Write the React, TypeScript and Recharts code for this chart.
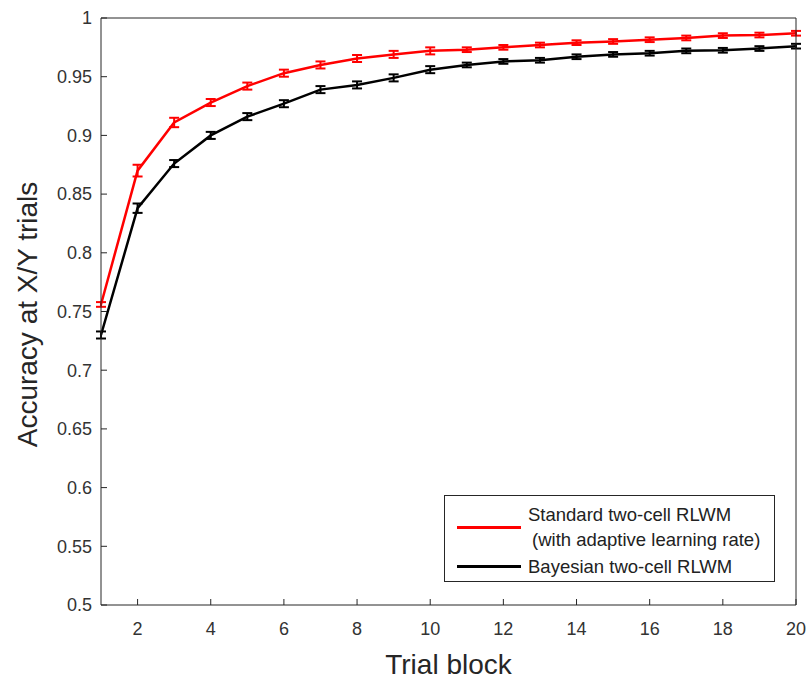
import React from 'react';
import {
  LineChart, Line, XAxis, YAxis, ErrorBar, Label,
} from 'recharts';

// accuracy per trial block for the two models
const trialBlocks = [1, 2, 3, 4, 5, 6, 7, 8, 9, 10, 11, 12, 13, 14, 15, 16, 17, 18, 19, 20];
const standardAcc = [0.756, 0.870, 0.911, 0.928, 0.942, 0.953, 0.960, 0.9655, 0.969, 0.972,
  0.973, 0.975, 0.977, 0.979, 0.980, 0.9815, 0.983, 0.985, 0.9855, 0.987];
const standardErr = [0.002, 0.005, 0.004, 0.003, 0.003, 0.003, 0.003, 0.003, 0.003, 0.003,
  0.002, 0.002, 0.002, 0.002, 0.002, 0.002, 0.002, 0.002, 0.002, 0.002];
const bayesianAcc = [0.730, 0.838, 0.876, 0.900, 0.916, 0.927, 0.939, 0.943, 0.949, 0.956,
  0.960, 0.963, 0.964, 0.967, 0.969, 0.970, 0.972, 0.9725, 0.974, 0.976];
const bayesianErr = [0.003, 0.004, 0.003, 0.003, 0.003, 0.003, 0.003, 0.003, 0.003, 0.003,
  0.002, 0.002, 0.002, 0.002, 0.002, 0.002, 0.002, 0.002, 0.002, 0.002];

const xTicks = [2, 4, 6, 8, 10, 12, 14, 16, 18, 20];
const yTicks = [0.5, 0.55, 0.6, 0.65, 0.7, 0.75, 0.8, 0.85, 0.9, 0.95, 1];

const series = [
  { key: 'standard', err: 'standardErr', color: '#ff0000',
    label: ['Standard two-cell RLWM', '(with adaptive learning rate)'] },
  { key: 'bayesian', err: 'bayesianErr', color: '#000000',
    label: ['Bayesian two-cell RLWM'] },
];

const data = trialBlocks.map((t, i) => ({
  block: t,
  standard: standardAcc[i],
  standardErr: standardErr[i],
  bayesian: bayesianAcc[i],
  bayesianErr: bayesianErr[i],
}));

const FONT = '"Liberation Sans", Arial, Helvetica, sans-serif';
const AXIS = '#262626';
const tickStyle = { fill: '#333', fontSize: 18, fontFamily: FONT };

const fmt = (v: number) => String(Number(v.toFixed(2)));

function LegendBox() {
  return (
    <div style={{
      position: 'absolute', left: 444, top: 495,
      border: `1px solid ${AXIS}`, background: '#fff', width: 331, height: 87,
      fontFamily: FONT, fontSize: 18.5, color: '#222', boxSizing: 'border-box',
      paddingTop: 6,
    }}>
      {series.map((s) => (
        <div key={s.key} style={{ display: 'flex', alignItems: 'center', marginBottom: 2 }}>
          <div style={{ width: 64, height: 3, background: s.color, marginLeft: 12, marginRight: 7 }} />
          <div style={{ lineHeight: '25px' }}>
            {s.label.map((l, k) => (
              <div key={k} style={{ paddingLeft: k > 0 ? 4 : 0 }}>{l}</div>
            ))}
          </div>
        </div>
      ))}
    </div>
  );
}

function YTitle(props: any) {
  const vb = props.viewBox;
  const cy = vb.y + vb.height / 2 + 3;
  return (
    <text x={37} y={cy} transform={`rotate(-90, 37, ${cy})`} textAnchor="middle"
      fontSize={28} fontFamily={FONT} fill={AXIS}>
      Accuracy at X/Y trials
    </text>
  );
}

export default function App() {
  return (
    <div style={{ position: 'absolute', left: 0, top: 0, width: 810, height: 679, background: '#fff' }}>
      <LineChart width={810} height={679} data={data}
        margin={{ top: 17, right: 13, bottom: 0, left: 0 }}>
        <XAxis dataKey="block" type="number" domain={[1, 20]} ticks={xTicks}
          height={74} tickSize={-6} tickMargin={23} tick={tickStyle}
          axisLine={{ stroke: AXIS }} tickLine={{ stroke: AXIS }}>
          <Label value="Trial block" position="insideBottom" offset={5}
            style={{ fontSize: 28, fontFamily: FONT, fill: AXIS }} />
        </XAxis>
        <XAxis xAxisId="top" orientation="top" dataKey="block" type="number" domain={[1, 20]}
          ticks={xTicks} height={1} tickSize={-6} tick={false}
          axisLine={{ stroke: AXIS }} tickLine={{ stroke: AXIS }} />
        <YAxis type="number" domain={[0.5, 1]} ticks={yTicks} width={101}
          tickSize={-6} tickMargin={15} tick={tickStyle} tickFormatter={fmt}
          axisLine={{ stroke: AXIS }} tickLine={{ stroke: AXIS }}>
          <Label content={YTitle} />
        </YAxis>
        <YAxis yAxisId="right" orientation="right" type="number" domain={[0.5, 1]}
          ticks={yTicks} width={1} tickSize={-6} tick={false}
          axisLine={{ stroke: AXIS }} tickLine={{ stroke: AXIS }} />
        {series.map((s) => (
          <Line key={s.key} dataKey={s.key} stroke={s.color} strokeWidth={2.5}
            dot={false} isAnimationActive={false}>
            <ErrorBar dataKey={s.err} width={5} strokeWidth={2} stroke={s.color} />
          </Line>
        ))}
      </LineChart>
      <LegendBox />
    </div>
  );
}
